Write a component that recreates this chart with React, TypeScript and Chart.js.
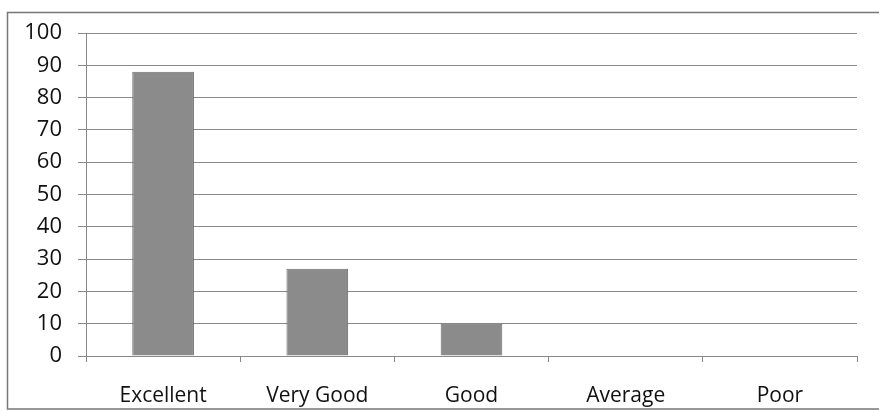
import React, { useEffect, useRef } from "react";
import { Chart, registerables } from "chart.js";

Chart.register(...registerables);

const categories = ["Excellent", "Very Good", "Good", "Average", "Poor"];
const values = [88, 27, 10, 0, 0];
const yTicks = [0, 10, 20, 30, 40, 50, 60, 70, 80, 90, 100];

const FONT = "'Open Sans', Lato, sans-serif";

export default function App() {
  const ref = useRef<HTMLCanvasElement | null>(null);
  useEffect(() => {
    if (!ref.current) return;
    const borderPlugin = {
      id: "frame",
      beforeDraw(chart: any) {
        const ctx = chart.ctx;
        ctx.save();
        ctx.fillStyle = "#ffffff";
        ctx.fillRect(0, 0, chart.width, chart.height);
        ctx.strokeStyle = "#777777";
        ctx.lineWidth = 1.5;
        ctx.beginPath();
        ctx.moveTo(879, 12.5);
        ctx.lineTo(7.5, 12.5);
        ctx.lineTo(7.5, 409);
        ctx.lineTo(879, 409);
        ctx.stroke();
        ctx.restore();
      },
    };
    const chart = new Chart(ref.current, {
      type: "bar",
      data: {
        labels: categories,
        datasets: [
          {
            data: values,
            backgroundColor: "#8b8b8b",
            borderColor: "#6e6e6e",
            borderWidth: 1,
            barPercentage: 0.4,
            categoryPercentage: 1,
          },
        ],
      },
      options: {
        animation: false,
        responsive: false,
        maintainAspectRatio: false,
        layout: { padding: { left: 0, top: 33, right: 22, bottom: 0 } },
        plugins: { legend: { display: false }, tooltip: { enabled: false } },
        scales: {
          x: {
            afterFit(scale: any) {
              scale.height = 55;
            },
            grid: {
              offset: true,
              drawOnChartArea: false,
              drawTicks: true,
              tickLength: 6,
              color: "#888888",
            },
            border: { display: true, color: "#888888", width: 1 },
            ticks: {
              color: "#111111",
              font: { family: FONT, size: 21 },
              padding: 21,
              maxRotation: 0,
            },
          },
          y: {
            min: 0,
            max: 100,
            afterFit(scale: any) {
              scale.width = 86;
            },
            afterBuildTicks(scale: any) {
              scale.ticks = yTicks.map((v) => ({ value: v }));
            },
            grid: {
              color: "#8a8a8a",
              lineWidth: 1,
              drawTicks: true,
              tickLength: 8,
            },
            border: { display: true, color: "#888888", width: 1 },
            ticks: {
              color: "#111111",
              font: { family: FONT, size: 22 },
              padding: 16,
            },
          },
        },
      },
      plugins: [borderPlugin],
    });
    return () => chart.destroy();
  }, []);
  return (
    <div style={{ position: "fixed", left: 0, top: 0, width: 879, height: 411 }}>
      <canvas ref={ref} width={879} height={411} style={{ width: 879, height: 411 }} />
    </div>
  );
}
